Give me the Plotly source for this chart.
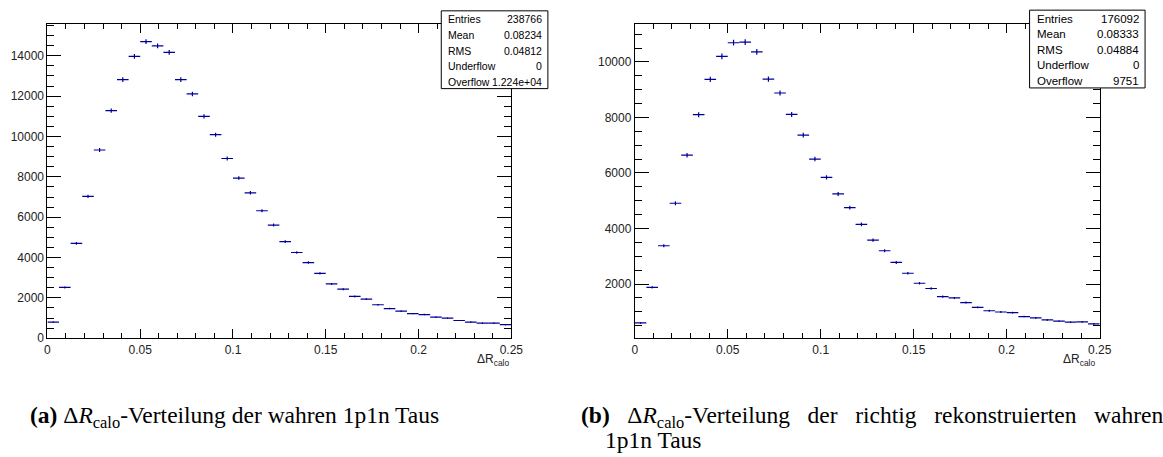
import numpy as np
import plotly.graph_objects as go

W, H = 1163, 457

# ---------------- data ----------------
bin_lo, bin_hi, n_bins = 0.0, 0.25, 40

counts_a = [800, 2520, 4700, 7030, 9330, 11280, 12820, 13970, 14700, 14490,
            14170, 12820, 12110, 11000, 10090, 8910, 7940, 7210, 6320, 5610,
            4790, 4250, 3750, 3210, 2690, 2430, 2070, 1940, 1660, 1470,
            1340, 1220, 1175, 1045, 995, 880, 800, 750, 750, 670]

counts_b = [600, 1880, 3380, 4910, 6640, 8100, 9370, 10200, 10690, 10710,
            10360, 9380, 8880, 8110, 7365, 6500, 5840, 5245, 4750, 4150,
            3580, 3200, 2780, 2390, 2030, 1840, 1550, 1500, 1335, 1160,
            1040, 995, 970, 830, 780, 710, 665, 630, 638, 567]

stat_labels = ["Entries", "Mean", "RMS", "Underflow", "Overflow"]
stats_a = ["238766", "0.08234", "0.04812", "0", "1.224e+04"]
stats_b = ["176092", "0.08333", "0.04884", "0", "9751"]

caption_a = "<b>(a)</b> Δ<i>R</i><sub>calo</sub>-Verteilung der wahren 1p1n Taus"
# first line of (b) is justified (stretched word spacing) in the reference
caption_b1 = ("<b>(b)</b> &nbsp;&nbsp;Δ<i>R</i><sub>calo</sub>-Verteilung &nbsp;&nbsp;der "
              "&nbsp;&nbsp;richtig &nbsp;&nbsp;rekonstruierten &nbsp;&nbsp;wahren")
caption_b2 = "1p1n Taus"
axis_title = "ΔR<sub>calo</sub>"

# ---------------- helpers ----------------
def px(x):
    return x / W


def py(y):
    return 1 - y / H


edges = np.linspace(bin_lo, bin_hi, n_bins + 1)
centers = 0.5 * (edges[:-1] + edges[1:])
half_w = 0.5 * (edges[1:] - edges[:-1])

LINE_COL = "#000099"
SANS = "Liberation Sans, Arial, sans-serif"
SERIF = "Liberation Serif, Times New Roman, serif"

fig = go.Figure()

panels = [
    dict(counts=counts_a, xa="x", ya="y", xd=[px(45), px(515)], yrange=[0, 15570],
         stats=stats_a, box=(444, 552, 11, 90), fs=10.5, title_x=515),
    dict(counts=counts_b, xa="x2", ya="y2", xd=[px(640), px(1111)], yrange=[50, 11360],
         stats=stats_b, box=(1040, 1157, 10.3, 89.3), fs=11.5, title_x=1108),
]

ydom = [py(343.5), py(24.5)]
shapes = []
annotations = []

for i, p in enumerate(panels):
    c = np.array(p["counts"], dtype=float)
    fig.add_trace(go.Scatter(
        x=centers, y=c, mode="markers",
        marker=dict(size=1, color=LINE_COL),
        error_x=dict(type="data", array=half_w, thickness=1.2, width=0, color=LINE_COL),
        error_y=dict(type="data", array=np.sqrt(c), thickness=1.2, width=0, color=LINE_COL),
        xaxis=p["xa"], yaxis=p["ya"], showlegend=False, hoverinfo="skip",
    ))
    sfx = "" if i == 0 else "2"
    fig.update_layout(**{
        "xaxis" + sfx: dict(
            domain=p["xd"], range=[bin_lo, bin_hi], anchor=p["ya"],
            showline=True, linecolor="black", linewidth=1, mirror="ticks",
            ticks="inside", ticklen=9, tickwidth=1, tickcolor="black",
            dtick=0.05, tick0=0,
            minor=dict(dtick=0.01, ticks="inside", ticklen=5, tickcolor="black", showgrid=False),
            showgrid=False, zeroline=False,
            tickfont=dict(family=SANS, size=12, color="#222"),
        ),
        "yaxis" + sfx: dict(
            domain=ydom, range=p["yrange"], anchor=p["xa"],
            showline=True, linecolor="black", linewidth=1, mirror="ticks",
            ticks="inside", ticklen=14, tickwidth=1, tickcolor="black",
            dtick=2000, tick0=0, tickformat="d",
            minor=dict(dtick=500, ticks="inside", ticklen=7, tickcolor="black", showgrid=False),
            showgrid=False, zeroline=False,
            tickfont=dict(family=SANS, size=12, color="#222"),
        ),
    })

    x0, x1, y0, y1 = p["box"]
    shapes.append(dict(type="rect", xref="paper", yref="paper",
                       x0=px(x0), x1=px(x1), y0=py(y1), y1=py(y0),
                       line=dict(color="black", width=1), fillcolor="white", layer="above"))
    row_h = (y1 - y0) / 5.0
    for k, (lab, val) in enumerate(zip(stat_labels, p["stats"])):
        yc = y0 + row_h * (k + 0.5) + 0.8
        annotations.append(dict(xref="paper", yref="paper", x=px(x0 + 5), y=py(yc),
                                xanchor="left", yanchor="middle", showarrow=False,
                                text=lab, font=dict(family=SANS, size=p["fs"], color="black")))
        annotations.append(dict(xref="paper", yref="paper", x=px(x1 - 4), y=py(yc),
                                xanchor="right", yanchor="middle", showarrow=False,
                                text=val, font=dict(family=SANS, size=p["fs"], color="black")))

    annotations.append(dict(xref="paper", yref="paper", x=px(p["title_x"]), y=py(366),
                            xanchor="right", yanchor="middle", showarrow=False,
                            text=axis_title, font=dict(family=SANS, size=12, color="#222")))

annotations.append(dict(xref="paper", yref="paper", x=px(25), y=py(423),
                        xanchor="left", yanchor="middle", showarrow=False,
                        text=caption_a, font=dict(family=SERIF, size=23.5, color="black")))
annotations.append(dict(xref="paper", yref="paper", x=px(584), y=py(423),
                        xanchor="left", yanchor="middle", showarrow=False,
                        text=caption_b1, font=dict(family=SERIF, size=23.5, color="black")))
annotations.append(dict(xref="paper", yref="paper", x=px(608), y=py(447),
                        xanchor="left", yanchor="middle", showarrow=False,
                        text=caption_b2, font=dict(family=SERIF, size=23.5, color="black")))

fig.update_layout(
    width=W, height=H,
    margin=dict(l=0, r=0, t=0, b=0, pad=0),
    paper_bgcolor="white", plot_bgcolor="white",
    shapes=shapes, annotations=annotations,
)

fig.write_html("out.html")
